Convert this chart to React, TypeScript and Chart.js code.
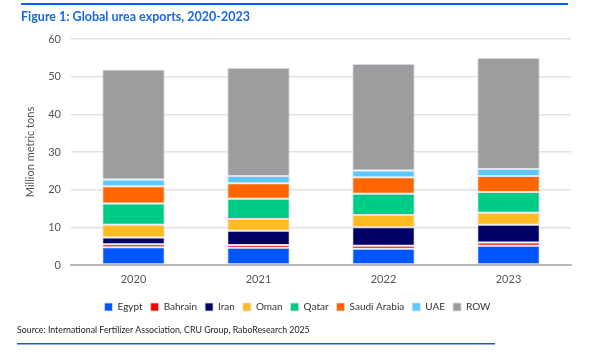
import React, { useEffect, useRef } from "react";
import { Chart, registerables } from "chart.js";

Chart.register(...registerables);

const years = ["2020", "2021", "2022", "2023"];
const egypt = [4.7, 4.6, 4.3, 5.1];
const bahrain = [0.8, 0.7, 0.8, 0.9];
const iran = [1.8, 3.8, 4.9, 4.7];
const oman = [3.4, 3.1, 3.3, 3.2];
const qatar = [5.6, 5.4, 5.6, 5.5];
const saudi = [4.6, 4.1, 4.4, 4.2];
const uae = [1.8, 1.9, 1.8, 1.9];
const row = [29.2, 28.8, 28.3, 29.5];
const yTicks = [0, 10, 20, 30, 40, 50, 60];

const titleText = "Figure 1: Global urea exports, 2020-2023";
const sourceText = "Source: International Fertilizer Association, CRU Group, RaboResearch 2025";
const FONT = "Lato, 'Noto Sans', sans-serif";

export default function App() {
  const ref = useRef<HTMLCanvasElement | null>(null);
  useEffect(() => {
    if (!ref.current) return;
    const mk = (label: string, data: number[], color: string) => ({
      label,
      data,
      backgroundColor: color,
      borderColor: "rgba(215,220,228,0.8)",
      borderWidth: 1,
      borderSkipped: false,
      barPercentage: 1,
      categoryPercentage: 0.5,
    });
    const decor = {
      id: "decor",
      afterDraw(chart: any) {
        const ctx = chart.ctx;
        ctx.save();
        ctx.fillStyle = "#0a5cff";
        ctx.fillRect(21, 3, 547, 2);
        ctx.fillStyle = "#1a68e0";
        ctx.font = `bold 12.5px ${FONT}`;
        ctx.textBaseline = "middle";
        ctx.textAlign = "left";
        ctx.fillText(titleText, 21, 16.5);
        ctx.fillStyle = "#222";
        ctx.font = `8.8px ${FONT}`;
        ctx.fillText(sourceText, 17, 330.5);
        ctx.fillStyle = "#1a5ee0";
        ctx.fillRect(17, 343, 478, 1.5);
        ctx.restore();
      },
    };
    const chart = new Chart(ref.current, {
      type: "bar",
      data: {
        labels: years,
        datasets: [
          mk("Egypt", egypt, "#0057ff"),
          mk("Bahrain", bahrain, "#ff0000"),
          mk("Iran", iran, "#000066"),
          mk("Oman", oman, "#ffbb22"),
          mk("Qatar", qatar, "#00cc88"),
          mk("Saudi Arabia", saudi, "#ff6600"),
          mk("UAE", uae, "#5bc8ff"),
          mk("ROW", row, "#9d9d9f"),
        ],
      },
      options: {
        animation: false,
        responsive: false,
        devicePixelRatio: 1,
        layout: { padding: { top: 39, left: 24, right: 29, bottom: 34 } },
        plugins: {
          legend: {
            position: "bottom",
            labels: {
              boxWidth: 8,
              boxHeight: 8,
              padding: 8,
              color: "#333",
              font: { family: FONT, size: 10 },
            },
          },
          tooltip: { enabled: false },
        },
        scales: {
          x: {
            stacked: true,
            grid: { display: false, drawTicks: false },
            border: { color: "#b8b8b8", width: 2 },
            ticks: { color: "#555", padding: 8, font: { family: FONT, size: 11 } },
            afterFit: (s: any) => { s.height = 29; },
          },
          y: {
            stacked: true,
            min: 0,
            max: 60,
            afterBuildTicks: (s: any) => { s.ticks = yTicks.map((v) => ({ value: v })); },
            grid: { color: "#e2e2e2", lineWidth: 1.5, drawTicks: false },
            border: { display: false },
            ticks: { color: "#555", padding: 10, font: { family: FONT, size: 11 } },
            title: {
              display: true,
              text: "Million metric tons",
              color: "#555",
              font: { family: FONT, size: 11 },
              padding: { top: 0, bottom: 4 },
            },
            afterFit: (s: any) => { s.width = 47; },
          },
        },
      },
      plugins: [decor],
    });
    return () => chart.destroy();
  }, []);
  return (
    <div style={{ position: "absolute", left: 0, top: 0, width: 600, height: 356, background: "#fff" }}>
      <canvas ref={ref} width={600} height={356} />
    </div>
  );
}
